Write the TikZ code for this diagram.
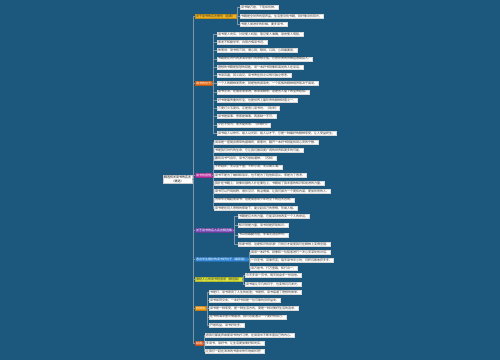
\documentclass[tikz,border=0pt]{standalone}
\usepackage{fontspec}
\usepackage{tikz}
\usetikzlibrary{positioning,calc}
\newfontfamily\zhfont{Noto Sans CJK SC}
\definecolor{mapbg}{HTML}{1C587D}
\definecolor{maplink}{HTML}{7D97AA}
\definecolor{bgold}{HTML}{F2B41E}
\definecolor{borange}{HTML}{E8701E}
\definecolor{bmagenta}{HTML}{C23AA8}
\definecolor{bpurple}{HTML}{7C4DB8}
\definecolor{bblue}{HTML}{2F87D6}
\definecolor{blime}{HTML}{DDE83C}
\definecolor{bamber}{HTML}{F29A14}
\definecolor{bred}{HTML}{E8652A}
\tikzset{
  mapfont/.style={font=\zhfont\fontsize{3}{3.8}\selectfont},
  rootbox/.style={mapfont, fill=white, draw=black!20, line width=0.2pt, align=center, inner sep=1pt, anchor=west},
  topic/.style={mapfont, fill=#1, draw=#1!80!black, line width=0.2pt, text=white, inner xsep=1pt, inner ysep=0.6pt, anchor=west},
  leaf/.style={mapfont, fill=white, draw=black!15, line width=0.2pt, text=black!80, inner xsep=1pt, inner ysep=0.6pt, anchor=west},
  link/.style={draw=maplink, line width=0.35pt},
}

\begin{document}
\begin{tikzpicture}[x=1pt, y=-1pt]
  \fill[mapbg] (0,0) rectangle (500,360);

  % centre and main topics
  \node[rootbox] (root) at (163,179) {精选有关读书的名言\\（精选）};
  \node[topic=bgold, text=black!80] (b1) at (195,16.5) {关于读书的名言警句（经典）};
  \node[topic=borange] (b2) at (195,83.5) {读书的句子};
  \node[topic=bmagenta] (b3) at (195,175) {读书的感悟};
  \node[topic=bpurple] (b4) at (195,230) {关于读书的名人名言精选集};
  \node[topic=bblue] (b5) at (195,259) {适合学生摘抄的读书好句子（最新版）};
  \node[topic=blime, text=black!80] (b6) at (195,279.5) {激励人心的读书短语录（精选版）};
  \node[topic=bamber] (b7) at (195,308.5) {好词句};
  \node[topic=bred] (b8) at (195,343) {结语};

  % leaves
  \node[leaf] (l1-1) at (240,7.5) {读书破万卷，下笔如有神。};
  \node[leaf] (l1-2) at (240,16) {书籍是全世界的营养品，生活里没有书籍，就好像没有阳光。};
  \node[leaf] (l1-3) at (240,24.5) {书是人类进步的阶梯，要多读书。};

  \node[leaf] (l2-1) at (217,34) {读书使人充实，讨论使人机智，笔记使人准确，读史使人明智。};
  \node[leaf] (l2-2) at (217,42.25) {黑发不知勤学早，白首方悔读书迟。};
  \node[leaf] (l2-3) at (217,50.5) {朱熹说：读书有三到，谓心到，眼到，口到，心到最要紧。};
  \node[leaf] (l2-4) at (217,58.75) {书籍是在时代的波涛中航行的思想之船，它把珍贵的货物运送给后人。};
  \node[leaf] (l2-5) at (217,67) {理想的书籍是智慧的钥匙，读一本好书就像和高尚的人在谈话。};
  \node[leaf] (l2-6) at (217,75.25) {书读百遍，其义自见，读书贵在持之以恒与独立思考。};
  \node[leaf] (l2-7) at (217,83.5) {一个人的精神发育史，就是他的阅读史，一个民族的精神境界取决于阅读。};
  \node[leaf] (l2-8) at (217,91.75) {读书之法，在循序而渐进，熟读而精思，这是古人留下的宝贵经验。};
  \node[leaf] (l2-9) at (217,100) {好书是最贵重的珍宝，也是世界上最珍贵的精神财富之一。};
  \node[leaf] (l2-10) at (217,108.25) {三更灯火五更鸡，正是男儿读书时。《劝学》};
  \node[leaf] (l2-11) at (217,116.5) {读书是易事，思索是难事，两者缺一不可。};
  \node[leaf] (l2-12) at (217,124.75) {少壮不努力，老大徒伤悲。《长歌行》};
  \node[leaf] (l2-13) at (217,133) {读书给人以快乐、给人以光彩、给人以才干，它是一种最好的精神享受，让人受益终生。};

  \node[leaf] (l3-1) at (214,142) {阅读是一座随身携带的避难所，疲惫时，翻开一本好书就能找到心灵的宁静。};
  \node[leaf] (l3-2) at (214,150.25) {书是我们时代的生命，它让我们看到更广阔的世界和更多的可能。};
  \node[leaf] (l3-3) at (214,158.5) {腹有诗书气自华，读书万卷始通神。（苏轼）};
  \node[leaf] (l3-4) at (214,166.75) {不积跬步，无以至千里；不积小流，无以成江海。};
  \node[leaf] (l3-5) at (214,175) {读书不是为了雄辩和驳斥，也不是为了轻信和盲从，而是为了思考。};
  \node[leaf] (l3-6) at (214,183.25) {我扑在书籍上，就像饥饿的人扑在面包上，书籍给了我丰富的知识和前进的力量。};
  \node[leaf] (l3-7) at (214,191.5) {读书可以开阔视野，增长见识，陶冶情操，让我们成为一个更有内涵、更加优秀的人。};
  \node[leaf] (l3-8) at (214,199.75) {为中华之崛起而读书，这是周恩来少年时立下的远大志向。};
  \node[leaf] (l3-9) at (214,208) {读书是在别人思想的帮助下，建立起自己的思想，形成人格。};

  \node[leaf] (l4-1) at (238,216) {书籍是巨大的力量，它能深刻地改变一个人的命运。};
  \node[leaf] (l4-2) at (238,225.33) {知识就是力量，读书就是获取知识。};
  \node[leaf] (l4-3) at (238,234.67) {书山有路勤为径，学海无涯苦作舟。};
  \node[leaf] (l4-4) at (238,244) {热爱书吧，这是知识的泉源！只有它才能使我们在精神上变得坚强。};

  \node[leaf] (l5-1) at (250,252) {阅读一本好书，就像和一位智者进行一次心灵深处的对话。};
  \node[leaf] (l5-2) at (250,260) {一日无书，百事荒芜；每天读书半小时，日积月累收获多多。};
  \node[leaf] (l5-3) at (250,268) {读万卷书，行万里路，知行合一。};

  \node[leaf] (l6-1) at (245,275) {今天多读一页书，明天就会多一份自信。};
  \node[leaf] (l6-2) at (245,284) {读书能让平凡的日子，也变得闪闪发光。};

  \node[leaf] (l7-1) at (209,292) {书是灯，读书照亮了人生的前途；书是桥，读书接通了理想的彼岸。};
  \node[leaf] (l7-2) at (209,300.25) {读书如同交友，一本好书就是一位可靠的良师益友。};
  \node[leaf] (l7-3) at (209,308.5) {读书是一种享受，是一种生活方式，更是一种对美好生活的追求。};
  \node[leaf] (l7-4) at (209,316.75) {在书的海洋里尽情遨游，我们总能遇见一个更好的自己。};
  \node[leaf] (l7-5) at (209,325) {开卷有益，读书好处多。};

  \node[leaf] (l8-1) at (205,335) {愿我们都能养成爱读书的好习惯，在阅读中不断丰富自己的内心。};
  \node[leaf] (l8-2) at (205,343) {多读书，读好书，让生活更加美好和充实。};
  \node[leaf] (l8-3) at (205,351) {让我们一起在浓浓的书香中快乐地成长吧！};

  % connectors
  \foreach \b in {1,...,8}
    \draw[link] (root.east) -- ++(1,0) |- (b\b.west);
  \foreach \b/\n in {1/3, 2/13, 3/9, 4/4, 5/3, 6/2, 7/5, 8/3}
    \foreach \i in {1,...,\n}
      \draw[link] (b\b.east) -- ++(1,0) |- (l\b-\i.west);
\end{tikzpicture}
\end{document}
